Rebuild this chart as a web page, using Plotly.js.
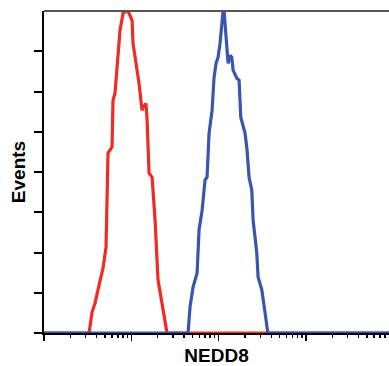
<!DOCTYPE html>
<html>
<head>
<meta charset="utf-8">
<script src="https://cdn.plot.ly/plotly-3.0.1.min.js"></script>
<style>html,body{margin:0;padding:0;background:#fff}#chart{width:389px;height:366px}</style>
</head>
<body>
<div id="chart"></div>
<script>
// Control (red) histogram: fluorescence intensity vs. events
const controlX = [1, 3.28, 3.55, 3.84, 4.15, 4.74, 5.13, 5.27, 5.41, 6.01, 6.17, 6.5, 6.86, 7.42, 8.03, 8.7, 9.17, 10.2, 10.45, 11.6, 12.25, 13.27, 13.6, 14.7, 15.1, 15.96, 17.3, 17.7, 18.7, 20.2, 22.5, 25.6, 9000];
const controlY = [0, 0, 0.52, 0.74, 1.07, 1.61, 2.13, 3.8, 4.47, 4.62, 5.78, 5.96, 6.6, 7.52, 7.94, 8, 8, 7.77, 7.2, 6.6, 6.2, 5.53, 5.6, 5.7, 5.36, 3.97, 3.87, 3.55, 2.8, 1.32, 0.74, 0, 0];
// NEDD8 (blue) histogram
const neddX = [1, 44.6, 47.0, 50.9, 56.6, 59.6, 64.6, 69.8, 73.6, 77.6, 84, 88.5, 93.3, 98.4, 103.7, 109.4, 112.2, 115.3, 123.8, 128.2, 135.2, 141.3, 146.2, 161.2, 171.3, 179.1, 200.5, 211.4, 222.8, 239.4, 247.8, 273, 282.5, 311.6, 339.8, 365, 9000];
const neddY = [0, 0, 0.65, 1.14, 1.49, 2.56, 3.05, 3.8, 3.87, 4.96, 5.53, 6.35, 6.7, 6.85, 7.2, 7.77, 8, 8, 7.2, 6.7, 6.9, 6.85, 6.53, 6.33, 6.28, 5.36, 4.96, 4.54, 3.87, 3.55, 2.8, 1.99, 1.39, 1.07, 0.5, 0, 0];

const xMajorTicks = [1, 10, 100, 1000];
const xMajorLabels = ['', '', '', ''];
const xMinorTicks = [];
for (const d of [1, 10, 100, 1000]) for (let k = 2; k <= 9; k++) xMinorTicks.push(d * k);
const yTicks = [0, 1, 2, 3, 4, 5, 6, 7];

const font = "'Liberation Sans Narrow', 'Arial Narrow', 'Liberation Sans', Arial, sans-serif";

const traces = [
  {x: controlX, y: controlY, type: 'scatter', mode: 'lines', line: {color: '#ee2b24', width: 3.2}, hoverinfo: 'skip'},
  {x: neddX, y: neddY, type: 'scatter', mode: 'lines', line: {color: '#3a55ad', width: 3.2}, hoverinfo: 'skip'}
];

const layout = {
  width: 389, height: 366,
  margin: {l: 44, r: 0, t: 11, b: 33, pad: 0},
  paper_bgcolor: '#fff', plot_bgcolor: '#fff',
  showlegend: false,
  xaxis: {
    type: 'log', range: [0, 3.95],
    tickmode: 'array', tickvals: xMajorTicks, ticktext: xMajorLabels,
    ticks: 'outside', ticklen: 6, tickwidth: 1.5, tickcolor: '#000',
    minor: {tickmode: 'array', tickvals: xMinorTicks, ticks: 'outside', ticklen: 3, tickwidth: 1.5, tickcolor: '#000', showgrid: false},
    showgrid: false, zeroline: false,
    showline: true, linecolor: '#000', linewidth: 2,
    title: {text: '<b>NEDD8</b>', font: {family: font, size: 19, color: '#000'}, standoff: 11}
  },
  yaxis: {
    range: [0, 8],
    tickmode: 'array', tickvals: yTicks, showticklabels: false,
    ticks: 'outside', ticklen: 8, tickwidth: 2, tickcolor: '#000',
    showgrid: false, zeroline: false,
    showline: true, linecolor: '#000', linewidth: 2,
    title: {text: '<b>Events</b>', font: {family: font, size: 19, color: '#000'}, standoff: 3}
  },
  shapes: [
    {type: 'line', xref: 'paper', yref: 'paper', x0: 0, x1: 1, y0: 1, y1: 1, line: {color: '#555', width: 2}}
  ]
};

Plotly.newPlot('chart', traces, layout, {staticPlot: true, displayModeBar: false});
</script>
</body>
</html>
